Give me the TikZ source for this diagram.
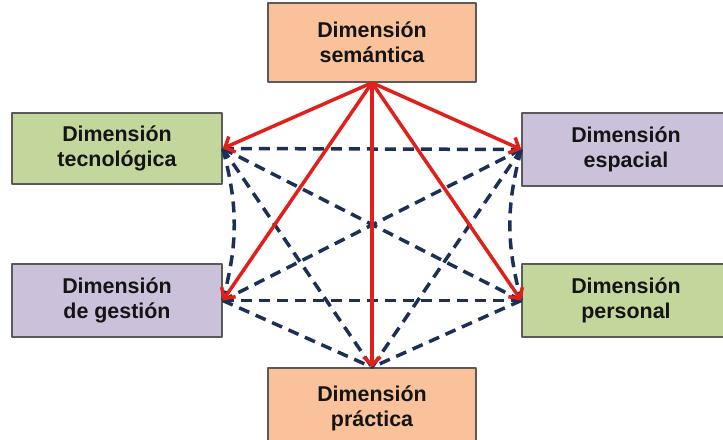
\documentclass[tikz,border=0pt]{standalone}
\usepackage{fontspec}
\setmainfont{Liberation Sans}
\usetikzlibrary{arrows.meta}
\definecolor{peach}{HTML}{F9C29A}
\definecolor{olivebox}{HTML}{C3D69B}
\definecolor{lilac}{HTML}{CCC1DA}
\definecolor{navy}{HTML}{1C2F57}
\definecolor{arrowred}{HTML}{E0201B}
\definecolor{boxline}{HTML}{5A5A5A}

\begin{document}
\begin{tikzpicture}[x=1bp, y=-1bp, line join=round, >={Straight Barb[length=8bp,width=17bp]},
		dim/.style={draw=boxline, line width=1.5bp, align=center, inner sep=0pt, minimum width=208bp, minimum height=73bp, font=\fontsize{21.5}{25}\selectfont\bfseries, text=black!92},
		link/.style={navy, line width=3.5bp, dash pattern=on 11bp off 7bp},
		pull/.style={arrowred, line width=3.5bp, ->}]
			\clip (0,0) rectangle (723,440);
			\node[dim, fill=peach, minimum height=79bp] (sem) at (372,42.5) {Dimensión\\semántica};
			\node[dim, fill=olivebox, minimum width=210bp, minimum height=71bp] (tec) at (117,148.5) {Dimensión\\tecnológica};
			\node[dim, fill=lilac] (esp) at (626,149.5) {Dimensión\\espacial};
			\node[dim, fill=lilac, minimum width=210bp] (ges) at (117,300.5) {Dimensión\\de gestión};
			\node[dim, fill=olivebox] (per) at (626,300.5) {Dimensión\\personal};
			\node[dim, fill=peach, minimum height=80bp] (pra) at (372,408) {Dimensión\\práctica};
			% dashed links between the five dimensions
			\coordinate (tecp) at (tec.east);
			\coordinate (espp) at (esp.west);
			\coordinate (gesp) at (ges.east);
			\coordinate (perp) at (per.west);
			\coordinate (prap) at (pra.north);
			\foreach \a/\b in {tecp/espp, tecp/perp, tecp/prap, espp/gesp, espp/prap, gesp/perp, gesp/prap, perp/prap} {
				\draw[link] (\a) -- (\b);
			}
			\draw[link] (tecp) to[bend left=15] (gesp);
			\draw[link] (espp) to[bend right=15] (perp);
			% red arrows from the semantic dimension
			\foreach \t in {tecp, espp, gesp, perp, prap} {
				\draw[pull] (sem.south) -- (\t);
			}
		\end{tikzpicture}
\end{document}
